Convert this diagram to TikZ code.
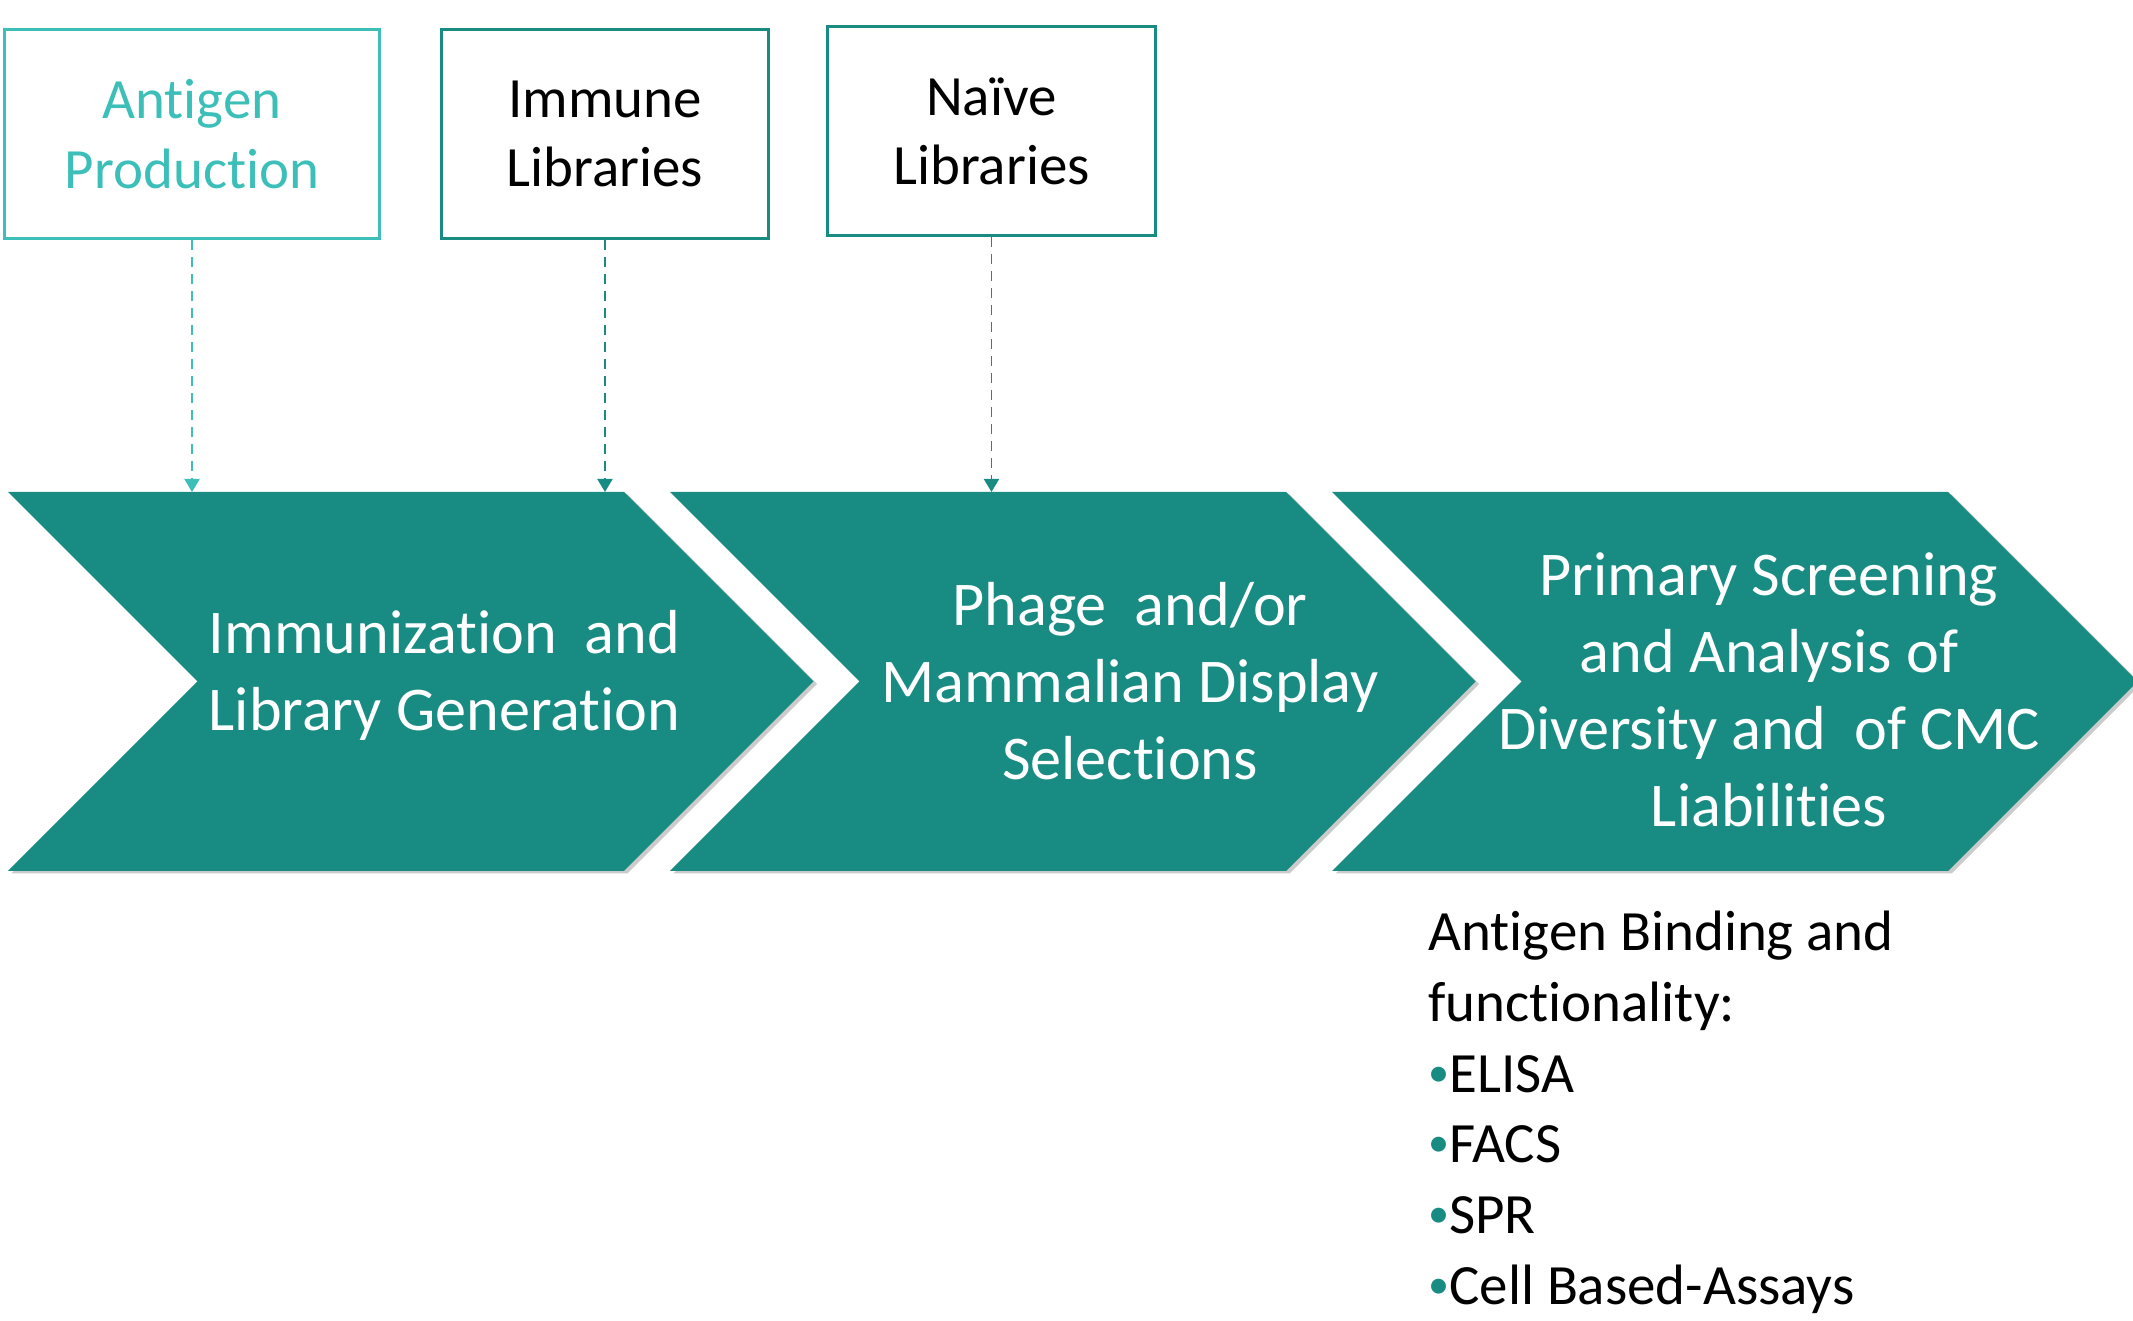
\documentclass[tikz,border=0pt]{standalone}
\usepackage{fontspec}
\setmainfont{Carlito}[Ligatures={CommonOff}]
\usepackage{tikz}
\usetikzlibrary{arrows.meta,positioning,shadows}
\definecolor{StageTeal}{RGB}{24,139,130}
\definecolor{LightTeal}{RGB}{59,191,184}
\newcommand{\assaydot}{{\fontsize{24}{24}\selectfont\raisebox{0.14em}{\textcolor{StageTeal}{\textbullet}}}}

\begin{document}
\begin{tikzpicture}[
  src/.style={draw=StageTeal,line width=1.7pt,minimum height=4.18cm,align=center,font=\fontsize{32.4}{39.5}\selectfont},
  feed/.style={draw=StageTeal,line width=1.1pt,dash pattern=on 0.2cm off 0.14cm,-{Triangle[width=0.3cm,length=0.26cm]}},
  stage/.style={fill=StageTeal,drop shadow={shadow xshift=0.07cm,shadow yshift=-0.05cm,fill=black!45,opacity=0.45}},
  stagetext/.style={text=white,align=center,font=\fontsize{35.4}{43.8}\selectfont},
  assay/.style={align=left,inner sep=0pt,font=\fontsize{32.4}{40.2}\selectfont}
]
  \useasboundingbox (0,0) rectangle (42.66,26.42);

  % inputs
  \node[src,draw=LightTeal,text=LightTeal,minimum width=7.5cm] (antigen) at (3.84,23.74) {Antigen\\Production};
  \node[src,minimum width=6.54cm,right=1.18cm of antigen] (immune) {Immune\\Libraries};
  \node[src,minimum width=6.56cm,right=1.12cm of immune,yshift=0.05cm] (naive) {Naïve\\Libraries};

  % stages
  \coordinate (immtop) at (0.16,16.58);
  \coordinate (phagetop) at (13.40,16.58);
  \coordinate (screentop) at (26.64,16.58);
  \path[stage] (immtop) -- ++(12.32,0) -- ++(3.79,-3.79) -- ++(-3.79,-3.79) -- ++(-12.32,0) -- ++(3.79,3.79) -- cycle;
  \path[stage] (phagetop) -- ++(12.32,0) -- ++(3.79,-3.79) -- ++(-3.79,-3.79) -- ++(-12.32,0) -- ++(3.79,3.79) -- cycle;
  \path[stage] (screentop) -- ++(12.32,0) -- ++(3.79,-3.79) -- ++(-3.79,-3.79) -- ++(-12.32,0) -- ++(3.79,3.79) -- cycle;

  \node[stagetext] (immtxt) at (8.89,12.91) {Immunization\ \ and\\Library Generation};
  \node[stagetext] (phagetxt) at (22.60,12.80) {Phage\ \ and/or\\Mammalian Display\\Selections};
  \node[stagetext] (screentxt) at (35.38,12.63) {Primary Screening\\and Analysis of\\Diversity and\ \ of CMC\\Liabilities};

  % feeds into the stages
  \draw[feed,draw=LightTeal] (antigen) -- (antigen |- immtop);
  \draw[feed] (immune) -- (immune |- immtop);
  \draw[feed] (naive) -- (naive |- phagetop);

  % readouts
  \node[assay,anchor=north west] (readout) at (28.56,8.2) {Antigen Binding and\\functionality:\\
    \assaydot ELISA\\
    \assaydot FACS\\
    \assaydot SPR\\
    \assaydot Cell Based-Assays};
\end{tikzpicture}
\end{document}
